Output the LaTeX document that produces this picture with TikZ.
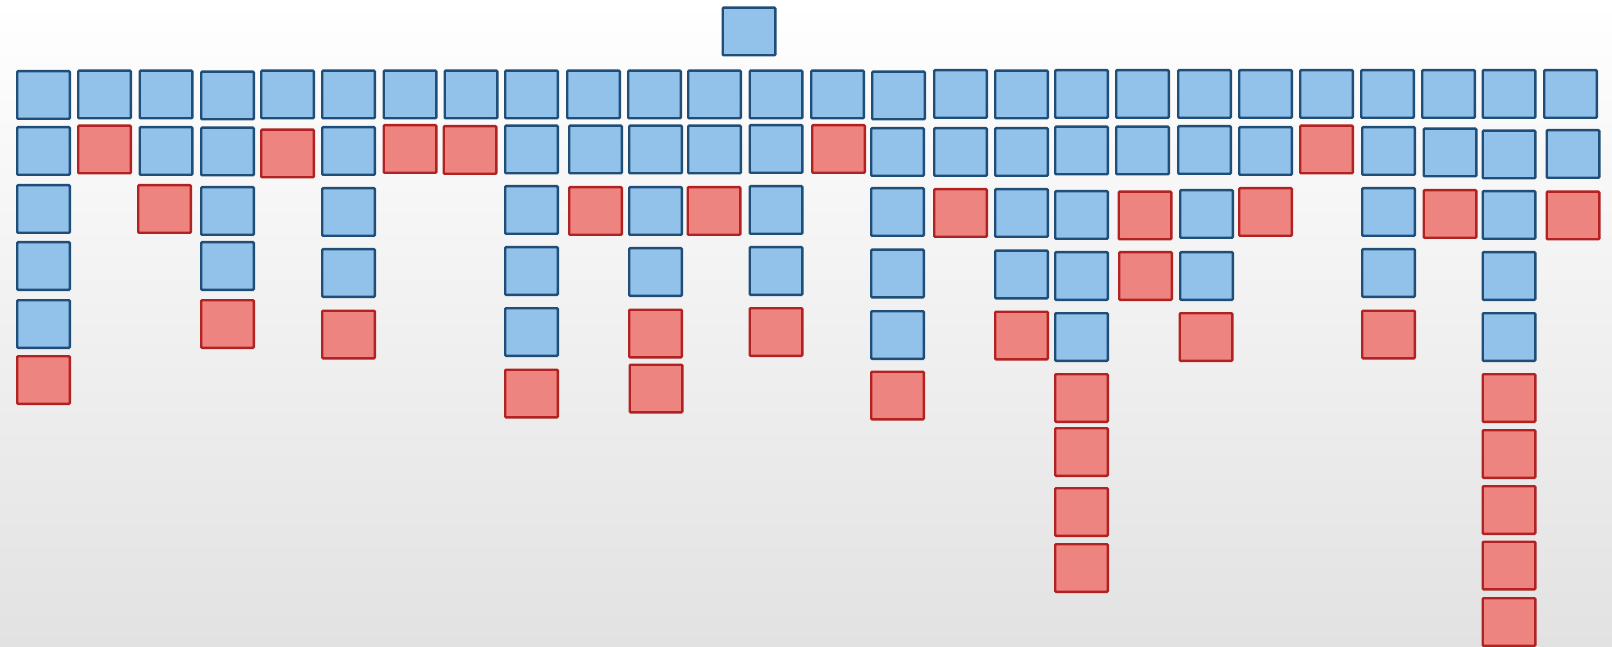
\documentclass[tikz,border=0pt]{standalone}
\usetikzlibrary{positioning}
\definecolor{bfill}{RGB}{146,194,234}
\definecolor{bline}{RGB}{31,78,121}
\definecolor{rfill}{RGB}{237,132,128}
\definecolor{rline}{RGB}{178,34,34}
\definecolor{bgtop}{RGB}{255,255,255}
\definecolor{bgbot}{RGB}{226,226,226}
\begin{document}
\begin{tikzpicture}[x=1pt,y=-1pt,
  sqbase/.style={rectangle,rounded corners=1pt,line width=2.4pt,minimum width=52.6pt,minimum height=47.6pt,inner sep=0pt},
  bsq/.style={sqbase,draw=bline,fill=bfill},
  rsq/.style={sqbase,draw=rline,fill=rfill}]
\useasboundingbox (0,0) rectangle (1612,647);
\shade[top color=bgtop,bottom color=bgbot] (0,0) rectangle (1612,647);
% top
\node[bsq] (top) at (749,31.5) {};
% col 1
\node[bsq] (a1) at (43.5,95) {};
\node[bsq] (a2) at (43.5,151) {};
\node[bsq] (a3) at (43.5,209) {};
\node[bsq] (a4) at (43.5,266) {};
\node[bsq] (a5) at (43.5,324) {};
\node[rsq] (a6) at (43.5,380) {};
% col 2
\node[bsq] (b1) at (104.5,94.5) {};
\node[rsq] (b2) at (104.5,149.5) {};
% col 3
\node[bsq] (c1) at (166,94.5) {};
\node[bsq] (c2) at (166,151) {};
\node[rsq] (c3) at (164.5,209) {};
% col 4
\node[bsq] (d1) at (227.5,95.5) {};
\node[bsq] (d2) at (227.5,151.5) {};
\node[bsq] (d3) at (227.5,211) {};
\node[bsq] (d4) at (227.5,266) {};
\node[rsq] (d5) at (227.5,324) {};
% col 5
\node[bsq] (e1) at (287.5,94.5) {};
\node[rsq] (e2) at (287.5,153.5) {};
% col 6
\node[bsq] (f1) at (348.5,94.5) {};
\node[bsq] (f2) at (348.5,151) {};
\node[bsq] (f3) at (348.5,212) {};
\node[bsq] (f4) at (348.5,273) {};
\node[rsq] (f5) at (348.5,334.5) {};
% col 7
\node[bsq] (g1) at (410,94.5) {};
\node[rsq] (g2) at (410,149) {};
% col 8
\node[bsq] (h1) at (471,94.5) {};
\node[rsq] (h2) at (470,150) {};
% col 9
\node[bsq] (i1) at (531.5,94.5) {};
\node[bsq] (i2) at (531.5,149.5) {};
\node[bsq] (i3) at (531.5,210) {};
\node[bsq] (i4) at (531.5,271) {};
\node[bsq] (i5) at (531.5,332) {};
\node[rsq] (i6) at (531.5,393.5) {};
% col 10
\node[bsq] (j1) at (593.5,94.5) {};
\node[bsq] (j2) at (595.5,149.5) {};
\node[rsq] (j3) at (595.5,211) {};
% col 11
\node[bsq] (k1) at (654.5,94.5) {};
\node[bsq] (k2) at (655.5,149.5) {};
\node[bsq] (k3) at (655.5,211) {};
\node[bsq] (k4) at (655.5,272) {};
\node[rsq] (k5) at (655.5,333.5) {};
\node[rsq] (k6) at (656,388.5) {};
% col 12
\node[bsq] (l1) at (714.5,94.5) {};
\node[bsq] (l2) at (714.5,149.5) {};
\node[rsq] (l3) at (714,211) {};
% col 13
\node[bsq] (m1) at (776,94.5) {};
\node[bsq] (m2) at (776,149) {};
\node[bsq] (m3) at (776,210) {};
\node[bsq] (m4) at (776,271) {};
\node[rsq] (m5) at (776,332) {};
% col 14
\node[bsq] (n1) at (837.5,94.5) {};
\node[rsq] (n2) at (838.5,149) {};
% col 15
\node[bsq] (o1) at (898.5,95.5) {};
\node[bsq] (o2) at (897.5,152) {};
\node[bsq] (o3) at (897.5,212) {};
\node[bsq] (o4) at (897.5,273.5) {};
\node[bsq] (o5) at (897.5,335) {};
\node[rsq] (o6) at (897.5,395.5) {};
% col 16
\node[bsq] (p1) at (960.5,94) {};
\node[bsq] (p2) at (960.5,152) {};
\node[rsq] (p3) at (960.5,213) {};
% col 17
\node[bsq] (q1) at (1021.5,94.5) {};
\node[bsq] (q2) at (1021.5,152) {};
\node[bsq] (q3) at (1021.5,213) {};
\node[bsq] (q4) at (1021.5,274.5) {};
\node[rsq] (q5) at (1021.5,335.5) {};
% col 18
\node[bsq] (r1) at (1081.5,94) {};
\node[bsq] (r2) at (1081.5,150.5) {};
\node[bsq] (r3) at (1081.5,215) {};
\node[bsq] (r4) at (1081.5,276) {};
\node[bsq] (r5) at (1081.5,337) {};
\node[rsq] (r6) at (1081.5,398) {};
\node[rsq] (r7) at (1081.5,452) {};
\node[rsq] (r8) at (1081.5,512) {};
\node[rsq] (r9) at (1081.5,568) {};
% col 19
\node[bsq] (s1) at (1142.5,94) {};
\node[bsq] (s2) at (1142.5,150.5) {};
\node[rsq] (s3) at (1145,215.5) {};
\node[rsq] (s4) at (1145.5,276) {};
% col 20
\node[bsq] (t1) at (1204.5,94) {};
\node[bsq] (t2) at (1204.5,150) {};
\node[bsq] (t3) at (1206.5,214) {};
\node[bsq] (t4) at (1206.5,276) {};
\node[rsq] (t5) at (1206,337) {};
% col 21
\node[bsq] (u1) at (1265.5,94) {};
\node[bsq] (u2) at (1265.5,151) {};
\node[rsq] (u3) at (1265.5,212) {};
% col 22
\node[bsq] (v1) at (1326.5,94) {};
\node[rsq] (v2) at (1326.5,149.5) {};
% col 23
\node[bsq] (w1) at (1387.5,94) {};
\node[bsq] (w2) at (1388.5,151) {};
\node[bsq] (w3) at (1388.5,212) {};
\node[bsq] (w4) at (1388.5,273) {};
\node[rsq] (w5) at (1388.5,334.5) {};
% col 24
\node[bsq] (x1) at (1448.5,94) {};
\node[bsq] (x2) at (1450,152.5) {};
\node[rsq] (x3) at (1450,214) {};
% col 25
\node[bsq] (y1) at (1509,94) {};
\node[bsq] (y2) at (1509,154.5) {};
\node[bsq] (y3) at (1509,215) {};
\node[bsq] (y4) at (1509,276) {};
\node[bsq] (y5) at (1509,337) {};
\node[rsq] (y6) at (1509,398) {};
\node[rsq] (y7) at (1509,454) {};
\node[rsq] (y8) at (1509,510) {};
\node[rsq] (y9) at (1509,565.5) {};
\node[rsq] (y10) at (1509,622) {};
% col 26
\node[bsq] (z1) at (1570.5,94) {};
\node[bsq] (z2) at (1573,154) {};
\node[rsq] (z3) at (1573,215.5) {};
\end{tikzpicture}
\end{document}
